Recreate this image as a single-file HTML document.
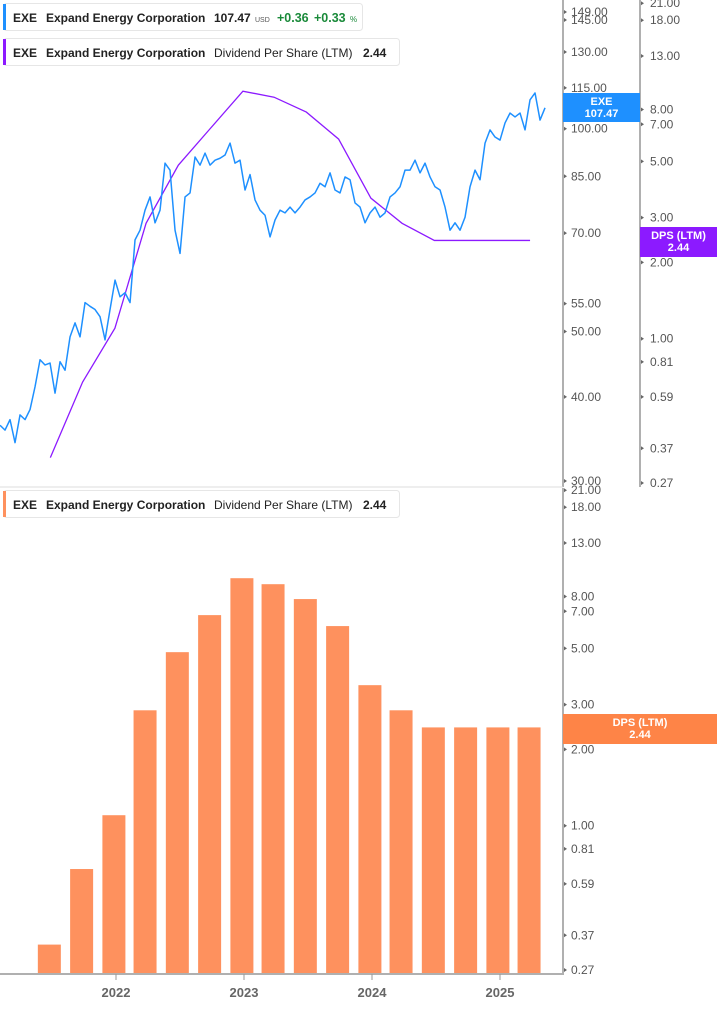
<!DOCTYPE html>
<html><head><meta charset="utf-8"><style>
body{margin:0;background:#fff;width:717px;height:1005px;overflow:hidden;font-family:"Liberation Sans",sans-serif}
svg text{font-family:"Liberation Sans",sans-serif}
</style></head><body>
<svg id="chart" width="717" height="1005" xmlns="http://www.w3.org/2000/svg">
<g id="g"></g>
</svg>
<script>
const priceStart = 2021.094;
const priceStep = 5/128;
const prices = [36.3,35.7,37.0,34.2,37.6,37.0,38.3,41.4,45.4,44.6,44.9,40.5,45.1,43.8,49.1,51.5,49.1,55.2,54.5,53.9,52.6,48.6,53.9,59.6,56.3,57.1,55.2,68.4,70.7,75.7,79.2,72.5,75.7,88.9,86.8,70.7,65.3,79.2,80.3,90.8,88.3,92.0,88.3,89.8,90.4,91.4,95.2,88.9,89.8,81.1,85.5,78.4,75.7,74.4,69.1,73.2,75.7,75.0,76.5,75.0,76.5,78.4,79.2,80.3,83.0,82.0,86.0,81.1,80.3,84.8,84.0,77.6,76.5,72.5,75.0,76.5,73.9,75.0,79.2,80.3,82.0,86.8,86.8,89.8,86.0,88.9,84.8,82.0,81.1,76.5,70.7,72.5,70.7,73.9,82.0,86.8,84.0,95.2,99.6,97.2,96.2,102.0,105.5,104.1,105.5,99.6,110.4,113.0,103.0,107.4];
const quarters = ["2021Q2","2021Q3","2021Q4","2022Q1","2022Q2","2022Q3","2022Q4","2023Q1","2023Q2","2023Q3","2023Q4","2024Q1","2024Q2","2024Q3","2024Q4","2025Q1"];
const dps = [0.34,0.675,1.1,2.85,4.83,6.76,9.45,8.95,7.82,6.12,3.58,2.85,2.44,2.44,2.44,2.44];
const priceTicks = [149,145,130,115,100,85,70,55,50,40,30];
const dpsTicks = [21,18,13,8,7,5,3,2,1,0.81,0.59,0.37,0.27];
const years = [2022,2023,2024,2025];

const NS="http://www.w3.org/2000/svg";
const g=document.getElementById('g');
function mk(t,a,txt){const e=document.createElementNS(NS,t);for(const k in a)e.setAttribute(k,a[k]);if(txt!==undefined)e.textContent=txt;g.appendChild(e);return e;}
const xT=t=>116+(t-2022)*128;
const yP=p=>481-Math.log(p/30)*292.6;
const yD1=v=>483-Math.log(v/0.27)*110.2;
const yD2=v=>970-Math.log(v/0.27)*110.2;
const qT=q=>parseInt(q)+(parseInt(q[5])-1)*0.2522+0.227;

let e;
e=mk('line',{x1:563,y1:0,x2:563,y2:487,stroke:'#b0b0b0','stroke-width':2});


e=mk('line',{x1:640,y1:0,x2:640,y2:487,stroke:'#b0b0b0','stroke-width':2});


e=mk('line',{x1:0,y1:487,x2:563,y2:487,stroke:'#ddd','stroke-width':1});


e=mk('line',{x1:563,y1:488,x2:563,y2:975,stroke:'#b0b0b0','stroke-width':2});


e=mk('line',{x1:0,y1:974,x2:564,y2:974,stroke:'#b0b0b0','stroke-width':2});



priceTicks.forEach(p=>{const y=yP(p);
 e=mk('path',{d:`M564 ${y-2}L567 ${y}L564 ${y+2}Z`,fill:'#666'});
 
 
 e=mk('text',{x:571,y:y+4,'font-size':12,fill:'#555'},p.toFixed(2));
 
 
});
dpsTicks.forEach(v=>{const y=yD1(v);
 e=mk('path',{d:`M641 ${y-2}L644 ${y}L641 ${y+2}Z`,fill:'#666'});
 
 
 e=mk('text',{x:650,y:y+4,'font-size':12,fill:'#555'},v.toFixed(2));
 
 
 const y2=yD2(v);
 e=mk('path',{d:`M564 ${y2-2}L567 ${y2}L564 ${y2+2}Z`,fill:'#666'});
 
 
 e=mk('text',{x:571,y:y2+4,'font-size':12,fill:'#555'},v.toFixed(2));
 
 
});
years.forEach(yr=>{const x=xT(yr);
 e=mk('line',{x1:x,y1:974,x2:x,y2:980,stroke:'#999'});
 
 
 e=mk('text',{x:x,y:997,'font-size':13,'font-weight':'bold',fill:'#666','text-anchor':'middle'},yr);
 
 
});

quarters.forEach((q,i)=>{const x=xT(qT(q));const y=yD2(dps[i]);
 e=mk('rect',{x:x-11.5,y:y,width:23,height:973-y,fill:'#fe915e'});
 
 
});

e=mk('polyline',{points:quarters.map((q,i)=>`${xT(qT(q))+1},${yD1(dps[i])}`).join(' '),fill:'none',stroke:'#8c1aff','stroke-width':1.3});


e=mk('polyline',{points:prices.map((p,i)=>`${xT(priceStart+i*priceStep)},${yP(p)}`).join(' '),fill:'none',stroke:'#1e90ff','stroke-width':1.5,'stroke-linejoin':'round'});



function badge(name,x,y,w,h,col,l1,l2){
 e=mk('rect',{x:x,y:y,width:w,height:h,fill:col});
 
 
 e=mk('text',{x:x+w/2,y:y+12,'font-size':11,'font-weight':'bold',fill:'#fff','text-anchor':'middle'},l1);
 
 
 e=mk('text',{x:x+w/2,y:y+24,'font-size':11,'font-weight':'bold',fill:'#fff','text-anchor':'middle'},l2);
 
 
}
badge('price-badge',563,93,77,29,'#1e90ff','EXE','107.47');
badge('dps-badge',640,227,77,30,'#8c1aff','DPS (LTM)','2.44');
badge('bar-dps-badge',563,714,154,30,'#fe8447','DPS (LTM)','2.44');

function legend(name,y,w,col,parts){
 e=mk('rect',{x:3.5,y:y+.5,width:w,height:27,rx:3,fill:'#fff',stroke:'#e6e6e6'});
 
 
 e=mk('rect',{x:3,y:y+1,width:3,height:26,fill:col});
 
 
 parts.forEach(p=>{
  e=mk('text',{x:p[0],y:y+19,'font-size':p[3]||12,'font-weight':p[2]?'bold':'normal',fill:p[4]||'#222'},p[1]);
  
  
 });
}
legend('price-legend',3,359,'#1e90ff',[[13,'EXE',1],[46,'Expand Energy Corporation',1],[214,'107.47',1],[255,'USD',0,7,'#555'],[277,'+0.36',1,12.5,'#1a8a3a'],[314,'+0.33',1,12.5,'#1a8a3a'],[350,'%',0,8,'#1a8a3a']]);
legend('dps-legend',38,396,'#8c1aff',[[13,'EXE',1],[46,'Expand Energy Corporation',1],[214,'Dividend Per Share (LTM)',0],[363,'2.44',1]]);
legend('bar-legend',490,396,'#fe915e',[[13,'EXE',1],[46,'Expand Energy Corporation',1],[214,'Dividend Per Share (LTM)',0],[363,'2.44',1]]);
</script>
</body></html>
